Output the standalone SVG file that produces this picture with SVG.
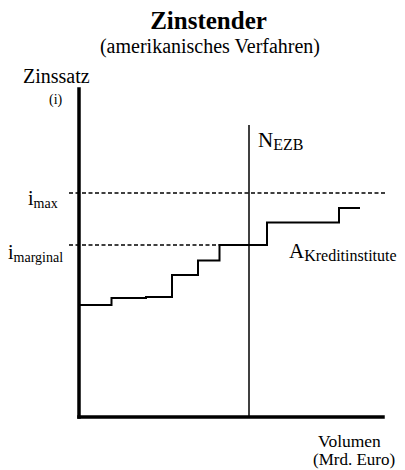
<svg xmlns="http://www.w3.org/2000/svg" width="405" height="470" viewBox="0 0 405 470">
<style>
text { font-family: "Liberation Serif", "Times New Roman", serif; fill: #000; }
.title { font-size: 25px; font-weight: bold; }
.sub { font-size: 20px; }
.lbl { font-size: 20px; }
.big { font-size: 21px; }
.axis { stroke: #000; stroke-width: 3.5; fill: none; stroke-linecap: square; }
.thin { stroke: #000; stroke-width: 1.5; fill: none; }
.dash { stroke: #000; stroke-width: 1.6; fill: none; stroke-dasharray: 4 2.5; }
.step { stroke: #000; stroke-width: 2; fill: none; }
</style>
<rect width="405" height="470" fill="#fff"/>
<g id="title">
<text class="title" x="208.5" y="28.5" text-anchor="middle">Zinstender</text>
<text class="sub" x="210" y="53" text-anchor="middle">(amerikanisches Verfahren)</text>
</g>
<g id="axes">
<line class="axis" x1="79" y1="89" x2="79" y2="417"/>
<line class="axis" x1="79" y1="417" x2="383" y2="417"/>
<text class="lbl" x="23" y="83">Zinssatz</text>
<text x="49" y="104" font-size="14">(i)</text>
<text x="318" y="447" font-size="17.5">Volumen</text>
<text x="313" y="465" font-size="17">(Mrd. Euro)</text>
</g>
<g id="connectors">
<line class="dash" x1="69" y1="193" x2="385" y2="193"/>
<line class="dash" x1="69" y1="245" x2="219" y2="245"/>
<line class="thin" x1="249" y1="125" x2="249" y2="417"/>
<path class="step" d="M80,305 H111.5 V298 H146 V297 H172 V275 H198 V260.5 H219.5 V245 H267 V222.5 H339 V208 H360"/>
</g>
<g id="n-ezb">
<text class="big" x="258" y="147">N<tspan font-size="16" dy="3">EZB</tspan></text>
</g>
<g id="a-kredit">
<text class="big" x="289" y="258">A<tspan font-size="16" dy="3">Kreditinstitute</tspan></text>
</g>
<g id="i-max">
<text class="lbl" x="28" y="205">i<tspan font-size="14" dy="3">max</tspan></text>
</g>
<g id="i-marginal">
<text class="lbl" x="8" y="259">i<tspan font-size="14" dy="3">marginal</tspan></text>
</g>
</svg>
